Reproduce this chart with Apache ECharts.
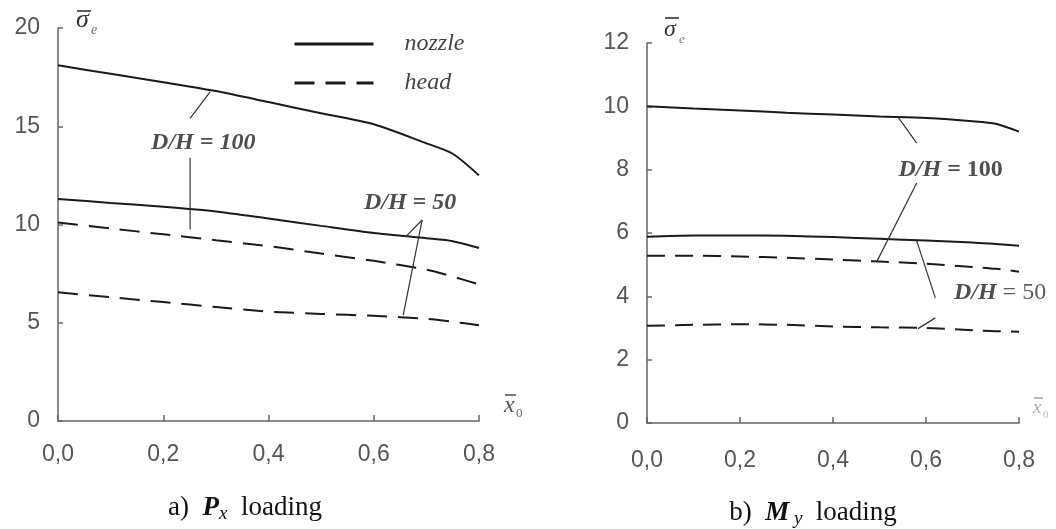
<!DOCTYPE html>
<html><head><meta charset="utf-8">
<script src="https://cdn.jsdelivr.net/npm/echarts@6/dist/echarts.min.js"></script>
<style>html,body{margin:0;padding:0;background:#fff}#c{width:1056px;height:529px}</style>
</head><body><div id="c"></div>
<script>
// shared abscissae (x̄0)
const xs = [0, 0.1, 0.2, 0.3, 0.4, 0.5, 0.6, 0.7, 0.75, 0.8];
// a) Px loading
const pxNozzle100 = [18.1, 17.67, 17.24, 16.79, 16.23, 15.66, 15.1, 14.13, 13.6, 12.5];
const pxNozzle50  = [11.3, 11.1, 10.9, 10.66, 10.3, 9.93, 9.57, 9.3, 9.15, 8.8];
const pxHead100   = [10.1, 9.8, 9.5, 9.2, 8.9, 8.52, 8.15, 7.7, 7.35, 6.95];
const pxHead50    = [6.55, 6.3, 6.05, 5.8, 5.57, 5.45, 5.35, 5.2, 5.05, 4.87];
// b) My loading
const myNozzle100 = [10.0, 9.93, 9.87, 9.8, 9.74, 9.68, 9.63, 9.53, 9.45, 9.2];
const myNozzle50  = [5.88, 5.92, 5.92, 5.91, 5.87, 5.82, 5.76, 5.7, 5.65, 5.6];
const myHead100   = [5.28, 5.28, 5.26, 5.22, 5.16, 5.1, 5.03, 4.93, 4.87, 4.78];
const myHead50    = [3.07, 3.1, 3.12, 3.1, 3.05, 3.02, 3.0, 2.93, 2.9, 2.88];
// leader lines (data coordinates)
const leadA100a = [[0.289, 16.75], [0.251, 15.4]];
const leadA100b = [[0.251, 13.4], [0.251, 9.75]];
const leadA50a  = [[0.692, 10.23], [0.66, 9.36]];
const leadA50b  = [[0.692, 10.23], [0.656, 5.39]];
const leadB100a = [[0.54, 9.66], [0.58, 8.84]];
const leadB100b = [[0.58, 7.58], [0.495, 5.12]];
const leadB50a  = [[0.58, 5.75], [0.62, 3.95]];
const leadB50b  = [[0.62, 3.32], [0.583, 2.98]];
// annotation labels: x, y, ratio text, value text
const labelsA = [[0.276, 14.15, 'D/H', '100'], [0.669, 11.09, 'D/H', '50']];
const labelsB = [[0.653, 8.0, 'D/H', '100'], [0.66, 4.1, 'D/H', '50']];
const seriesNames = ['nozzle', 'head'];

const pairs = (ys) => xs.map((x, i) => [x, ys[i]]);
const axisColor = '#666';
const serif = 'Liberation Serif';
const tickFmt = v => v.toFixed(1).replace('.', ',');

function xAxis(g, margin) {
  return {
    type: 'value', gridIndex: g, min: 0, max: 0.8, interval: 0.2,
    axisLine: { show: true, lineStyle: { color: axisColor, width: 1.5 } },
    axisTick: { show: true, inside: true, length: 6, lineStyle: { color: axisColor, width: 1.5 } },
    axisLabel: { margin: margin, fontSize: 23, color: '#555', fontFamily: 'Liberation Sans', formatter: tickFmt },
    splitLine: { show: false }
  };
}
function yAxis(g, max, interval) {
  return {
    type: 'value', gridIndex: g, min: 0, max: max, interval: interval,
    axisLine: { show: true, lineStyle: { color: axisColor, width: 1.5 } },
    axisTick: { show: true, inside: true, length: 5, lineStyle: { color: axisColor, width: 1.5 } },
    axisLabel: { margin: 18, fontSize: 23, color: '#555', fontFamily: 'Liberation Sans' },
    splitLine: { show: false }
  };
}
function curve(name, g, ys, dashed, dash) {
  return {
    type: 'line', name: name, xAxisIndex: g, yAxisIndex: g, data: pairs(ys),
    symbol: 'none', smooth: 0.25, silent: true,
    lineStyle: { color: '#1a1a1a', width: 2, type: dashed ? dash : 'solid' }
  };
}
function leader(g, pts) {
  return {
    type: 'line', xAxisIndex: g, yAxisIndex: g, data: pts, symbol: 'none', silent: true,
    lineStyle: { color: '#333', width: 1.2 }
  };
}
const rich = {
  i: { fontFamily: serif, fontStyle: 'italic', fontWeight: 'bold', fontSize: 24, color: '#222' },
  u: { fontFamily: serif, fontWeight: 'bold', fontSize: 24, color: '#222' },
  r: { fontFamily: serif, fontSize: 24, color: '#333' }
};
function labels(g, list, fmt, positions) {
  return {
    type: 'scatter', xAxisIndex: g, yAxisIndex: g, symbolSize: 0.1, silent: true,
    itemStyle: { color: 'transparent' },
    data: list.map((d, k) => ({ value: [d[0], d[1]], label: { position: positions[k] } })),
    label: { show: true, distance: 0, formatter: p => fmt(list[p.dataIndex], p.dataIndex), rich: rich }
  };
}
const fmtA = d => '{i|' + d[2] + ' = ' + d[3] + '}';
const fmtB = (d, k) => '{i|' + d[2] + '}' + (k === 0 ? '{u| = ' + d[3] + '}' : '{r| = ' + d[3] + '}');

function symbolText(x, y, main, sub, size, subSize, color, subColor, subDx, subDy, barDy, barW, subItalic) {
  return [
    { type: 'text', x: x, y: y, silent: true,
      style: { text: main, fontFamily: serif, fontStyle: 'italic', fontSize: size, fill: color, verticalAlign: 'middle' } },
    { type: 'line', silent: true, shape: { x1: x + 1, y1: y + barDy, x2: x + 1 + barW, y2: y + barDy },
      style: { stroke: color, lineWidth: 1.6 } },
    { type: 'text', x: x + subDx, y: y + subDy, silent: true,
      style: { text: sub, fontFamily: serif, fontStyle: subItalic ? 'italic' : 'normal', fontSize: subSize, fill: subColor, verticalAlign: 'middle' } }
  ];
}

const option = {
  backgroundColor: '#fff',
  animation: false,
  grid: [
    { left: 58, top: 28, width: 421, height: 393 },
    { left: 647, top: 43, width: 372, height: 380 }
  ],
  xAxis: [xAxis(0, 22), xAxis(1, 26)],
  yAxis: [yAxis(0, 20, 5), yAxis(1, 12, 2)],
  legend: {
    data: seriesNames, orient: 'vertical', left: 288, top: 27,
    itemWidth: 79, itemHeight: 14, itemGap: 15, selectedMode: false,
    itemStyle: { opacity: 0 },
    lineStyle: { width: 3 },
    textStyle: { fontFamily: serif, fontStyle: 'italic', fontSize: 24, color: '#444', lineHeight: 24, padding: [0, 0, 0, 26] }
  },
  series: [
    curve(seriesNames[0], 0, pxNozzle100, false),
    curve(seriesNames[0], 0, pxNozzle50, false),
    curve(seriesNames[1], 0, pxHead100, true, [20, 11]),
    curve(seriesNames[1], 0, pxHead50, true, [20, 11]),
    curve(seriesNames[0], 1, myNozzle100, false),
    curve(seriesNames[0], 1, myNozzle50, false),
    curve(seriesNames[1], 1, myHead100, true, [18, 10]),
    curve(seriesNames[1], 1, myHead50, true, [18, 10]),
    leader(0, leadA100a), leader(0, leadA100b), leader(0, leadA50a), leader(0, leadA50b),
    leader(1, leadB100a), leader(1, leadB100b), leader(1, leadB50a), leader(1, leadB50b),
    labels(0, labelsA, fmtA, ['inside', 'inside']),
    labels(1, labelsB, fmtB, ['inside', 'right'])
  ],
  graphic: [].concat(
    symbolText(76, 20, 'σ', 'e', 26, 14, '#333', '#666', 15, 10, -9, 14, true),
    symbolText(664, 30, 'σ', 'e', 24, 13, '#333', '#777', 15, 10, -12, 14, true),
    symbolText(504, 406, 'x', '0', 24, 13, '#555', '#666', 12, 8, -11, 11, false),
    symbolText(1033, 408, 'x', '0', 19, 11, '#aaa', '#bbb', 10, 7, -10, 9, false),
    [
      { type: 'text', x: 245, y: 508, silent: true, style: {
          text: '{n|a)  }{b|P}{s|x}{n|  loading}', align: 'center', verticalAlign: 'middle',
          rich: { n: { fontFamily: serif, fontSize: 27, fill: '#111', lineHeight: 30 },
                  b: { fontFamily: serif, fontSize: 27, fontStyle: 'italic', fontWeight: 'bold', fill: '#111', lineHeight: 30 },
                  s: { fontFamily: serif, fontSize: 19, fontStyle: 'italic', fill: '#111', lineHeight: 18, padding: [9, 0, 0, 0], verticalAlign: 'bottom' } } } },
      { type: 'text', x: 813, y: 513, silent: true, style: {
          text: '{n|b)  }{b|M}{s| y}{n|  loading}', align: 'center', verticalAlign: 'middle',
          rich: { n: { fontFamily: serif, fontSize: 27, fill: '#111', lineHeight: 30 },
                  b: { fontFamily: serif, fontSize: 27, fontStyle: 'italic', fontWeight: 'bold', fill: '#111', lineHeight: 30 },
                  s: { fontFamily: serif, fontSize: 19, fontStyle: 'italic', fill: '#111', lineHeight: 18, padding: [9, 0, 0, 0], verticalAlign: 'bottom' } } } }
    ]
  )
};
echarts.init(document.getElementById('c'), null, { renderer: 'canvas' }).setOption(option);
</script></body></html>
